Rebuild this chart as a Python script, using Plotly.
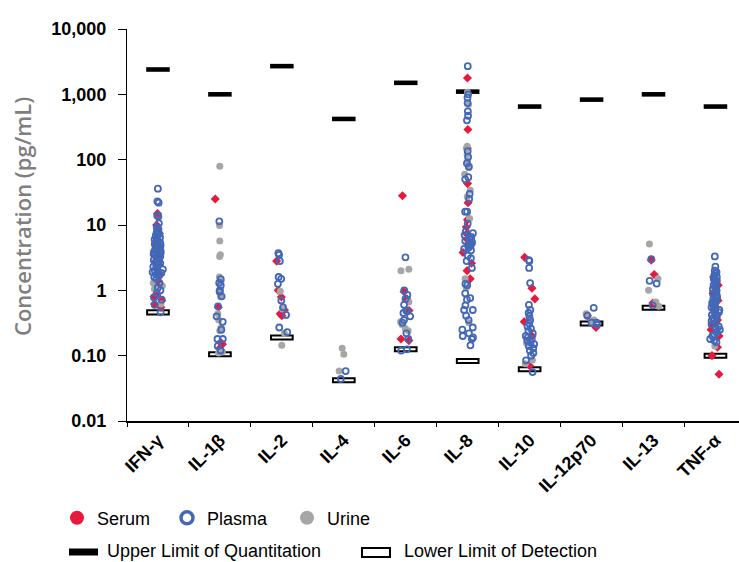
import plotly.graph_objects as go

# ---------------- data ----------------
categories = ["IFN-γ", "IL-1β", "IL-2", "IL-4", "IL-6", "IL-8", "IL-10", "IL-12p70", "IL-13", "TNF-α"]
uloq = [2400, 1000, 2700, 420, 1500, 1100, 650, 830, 1000, 650]
llod = [0.46, 0.105, 0.19, 0.042, 0.125, 0.083, 0.062, 0.31, 0.54, 0.10]

y_tickvals = [0.01, 0.1, 1, 10, 100, 1000, 10000]
y_ticktext = ["0.01", "0.10", "1", "10", "100", "1,000", "10,000"]

# Serum (red)
serum_ifng = [15, 10, 8.0, 7.4, 6.1, 5.0, 4.6, 3.8, 3.3, 2.8, 2.1, 1.8, 1.4, 1.25, 0.85, 0.8, 0.7, 0.62, 0.55]
serum_il1b = [25, 0.55, 0.16, 0.15, 0.13]
serum_il2 = [2.8, 1.0, 0.79, 0.5, 0.44, 0.41]
serum_il4 = []
serum_il6 = [28, 0.95, 0.74, 0.49, 0.18, 0.17]
serum_il8 = [1780, 290, 150, 43, 22, 12, 9.3, 7.2, 6.0, 5.0, 3.8, 2.6, 2.0, 1.5]
serum_il10 = [3.2, 1.08, 0.74, 0.33, 0.2, 0.07]
serum_il12 = [0.41, 0.27]
serum_il13 = [2.9, 1.74, 0.64]
serum_tnfa = [1.6, 1.2, 0.9, 0.7, 0.55, 0.45, 0.35, 0.3, 0.25, 0.2, 0.135, 0.1, 0.052]

# Plasma (blue rings)
plasma_ifng = [36, 23, 22, 14, 13.5, 10.6, 9.2, 8.6, 8.1, 7.8, 7.3, 7.0, 6.8, 6.5, 6.2, 6.0, 5.7, 5.5,
               5.3, 5.1, 4.9, 4.8, 4.6, 4.4, 4.3, 4.1, 4.0, 3.9, 3.7, 3.6, 3.5, 3.4, 3.3, 3.2, 3.0, 2.9,
               2.8, 2.7, 2.6, 2.5, 2.4, 2.3, 2.2, 2.1, 2.0, 1.9, 1.85, 1.75, 1.7, 1.6, 1.5, 1.3, 1.1,
               1.0, 0.9, 0.78, 0.72, 0.6, 0.46]
plasma_il1b = [11.4, 1.48, 1.3, 1.19, 1.0, 0.95, 0.81, 0.57, 0.4, 0.33, 0.25, 0.18, 0.18, 0.14, 0.12]
plasma_il2 = [3.7, 3.5, 2.8, 1.6, 1.5, 1.26, 0.7, 0.55, 0.42, 0.27, 0.23]
plasma_il4 = [0.058, 0.044]
plasma_il6 = [3.2, 1.0, 0.85, 0.74, 0.6, 0.49, 0.49, 0.45, 0.4, 0.35, 0.32, 0.22, 0.18, 0.125, 0.12]
plasma_il8 = [2700, 1000, 890, 735, 550, 470, 400, 135, 110, 88, 78, 54, 50, 30, 25, 16, 16, 10.5, 8.0,
              7.5, 7.0, 6.6, 6.2, 6.0, 5.7, 5.4, 5.2, 5.0, 4.8, 4.5, 4.3, 4.1, 3.4, 3.1, 2.8, 2.2, 1.26,
              1.2, 0.9, 0.76, 0.72, 0.59, 0.5, 0.5, 0.41, 0.35, 0.27, 0.25, 0.22, 0.2, 0.19, 0.18, 0.144]
plasma_il10 = [2.9, 2.8, 2.2, 1.29, 0.6, 0.5, 0.45, 0.4, 0.35, 0.31, 0.28, 0.26, 0.24, 0.22, 0.2, 0.19,
               0.18, 0.17, 0.16, 0.15, 0.14, 0.13, 0.12, 0.11, 0.1, 0.085, 0.056]
plasma_il12 = [0.54, 0.41, 0.32, 0.32, 0.3]
plasma_il13 = [3.0, 1.4, 1.27, 0.59]
plasma_tnfa = [3.3, 2.3, 2.0, 1.9, 1.8, 1.7, 1.6, 1.5, 1.45, 1.4, 1.3, 1.25, 1.2, 1.1, 1.05, 1.0, 0.95,
               0.9, 0.85, 0.8, 0.78, 0.75, 0.7, 0.67, 0.64, 0.6, 0.58, 0.55, 0.52, 0.5, 0.48, 0.46,
               0.44, 0.42, 0.4, 0.38, 0.36, 0.34, 0.32, 0.3, 0.28, 0.26, 0.25, 0.23, 0.21, 0.2, 0.18,
               0.17, 0.16]

# Urine (grey)
urine_ifng = [1.3, 1.18, 1.05, 0.62]
urine_il1b = [79, 9.8, 5.7, 3.5, 3.3, 1.6, 1.35, 1.0, 0.8, 0.44, 0.35, 0.27, 0.24, 0.115, 0.11]
urine_il2 = [0.97, 0.52, 0.22, 0.144]
urine_il4 = [0.13, 0.105, 0.058]
urine_il6 = [2.1, 2.0, 0.66, 0.33, 0.3, 0.26, 0.24]
urine_il8 = [1080, 700, 160, 150, 120, 95, 75, 60, 34, 27, 12.6, 1.5, 1.1, 0.32]
urine_il10 = [0.155, 0.085, 0.075]
urine_il12 = [0.44, 0.35, 0.32]
urine_il13 = [5.1, 1.5, 1.0, 0.66, 0.57]
urine_tnfa = [0.5, 0.22, 0.14]

serum = [serum_ifng, serum_il1b, serum_il2, serum_il4, serum_il6, serum_il8, serum_il10, serum_il12, serum_il13, serum_tnfa]
plasma = [plasma_ifng, plasma_il1b, plasma_il2, plasma_il4, plasma_il6, plasma_il8, plasma_il10, plasma_il12, plasma_il13, plasma_tnfa]
urine = [urine_ifng, urine_il1b, urine_il2, urine_il4, urine_il6, urine_il8, urine_il10, urine_il12, urine_il13, urine_tnfa]

# ---------------- style ----------------
RED = "#E8193C"
BLUE = "#4468B8"
GREY = "#A6A6A6"
FONT = "Liberation Sans, Arial, sans-serif"

W_FIG, H_FIG = 739, 562
ML, MR, MT, MB = 127, 0, 29, 141
PW, PH = W_FIG - ML - MR, H_FIG - MT - MB


def px_x(p):
    return (p - ML) / PW


def px_y(p):
    return (MT + PH - p) / PH


def flat(groups):
    xs, ys = [], []
    for cat, vals in zip(categories, groups):
        xs += [cat] * len(vals)
        ys += list(vals)
    return xs, ys


fig = go.Figure()

# limit bars (thin bars on log axis, centred on the limit values)
u_half = 10 ** 0.035
l_half = 10 ** 0.031
fig.add_trace(go.Bar(
    x=categories, y=[v * u_half - v / u_half for v in uloq], base=[v / u_half for v in uloq],
    width=0.38, marker=dict(color="black", line=dict(width=0)), showlegend=False,
    name="Upper Limit of Quantitation"))
fig.add_trace(go.Bar(
    x=categories, y=[v * l_half - v / l_half for v in llod], base=[v / l_half for v in llod],
    width=0.35, marker=dict(color="white", line=dict(color="black", width=2)), showlegend=False,
    name="Lower Limit of Detection"))


def points(groups, name, marker):
    xs, ys = flat(groups)
    return go.Box(
        x=xs, y=ys, name=name, boxpoints="all", jitter=0.6, pointpos=0, width=0.3,
        fillcolor="rgba(0,0,0,0)", line=dict(width=0, color="rgba(0,0,0,0)"),
        marker=marker, showlegend=False, hoveron="points")


fig.add_trace(points(serum, "Serum", dict(symbol="diamond", size=7, color=RED)))
fig.add_trace(points(urine, "Urine", dict(symbol="circle", size=7, color=GREY)))
fig.add_trace(points(plasma, "Plasma", dict(symbol="circle-open", size=6, color=BLUE,
                                            line=dict(width=1.8, color=BLUE))))

# legend entries
fig.add_trace(go.Scatter(x=[None], y=[None], mode="markers", name="Serum",
                         marker=dict(symbol="circle", size=14, color=RED), legendwidth=65))
fig.add_trace(go.Scatter(x=[None], y=[None], mode="markers", name="Plasma",
                         marker=dict(symbol="circle-open", size=12, color=BLUE, line=dict(width=3.5, color=BLUE)),
                         legendwidth=75))
fig.add_trace(go.Scatter(x=[None], y=[None], mode="markers", name="Urine",
                         marker=dict(symbol="circle", size=14, color=GREY), legendwidth=60))

shapes = [
    dict(type="rect", xref="paper", yref="paper", x0=px_x(69), x1=px_x(98), y0=px_y(555.5), y1=px_y(548.5),
         fillcolor="black", line=dict(width=0)),
    dict(type="rect", xref="paper", yref="paper", x0=px_x(362), x1=px_x(390), y0=px_y(557), y1=px_y(548),
         fillcolor="white", line=dict(color="black", width=2)),
]
annotations = [
    dict(text="Upper Limit of Quantitation", xref="paper", yref="paper", x=px_x(105), y=px_y(551),
         xanchor="left", yanchor="middle", showarrow=False, font=dict(family=FONT, size=18, color="black")),
    dict(text="Lower Limit of Detection", xref="paper", yref="paper", x=px_x(402), y=px_y(551),
         xanchor="left", yanchor="middle", showarrow=False, font=dict(family=FONT, size=18, color="black")),
    dict(text="Concentration (pg/mL)", xref="paper", yref="paper", x=px_x(22), y=px_y(217),
         xanchor="center", yanchor="middle", textangle=-90, showarrow=False,
         font=dict(family="Open Sans, sans-serif", size=22, color="#7F7F7F", weight=600)),
]

fig.update_layout(
    width=W_FIG, height=H_FIG,
    margin=dict(l=ML, r=MR, t=MT, b=MB, autoexpand=False),
    plot_bgcolor="white", paper_bgcolor="white",
    barmode="overlay", boxmode="overlay",
    font=dict(family=FONT, color="black"),
    showlegend=True,
    legend=dict(orientation="h", x=px_x(57), xanchor="left", y=px_y(518), yanchor="middle",
                font=dict(family=FONT, size=18, color="black"), bgcolor="rgba(0,0,0,0)",
                borderwidth=0, itemclick=False),
    shapes=shapes, annotations=annotations,
    xaxis=dict(type="category", categoryorder="array", categoryarray=categories,
               range=[-0.5, 9.38], tickson="boundaries", ticks="outside", ticklen=4,
               tickcolor="black", showline=True, linecolor="black", linewidth=1.5,
               showgrid=False, zeroline=False, tickangle=-45,
               tickfont=dict(family=FONT, size=18, color="black", weight="bold")),
    yaxis=dict(type="log", range=[-2, 4], tickvals=y_tickvals, ticktext=y_ticktext,
               ticks="outside", ticklen=8, tickcolor="black", showline=True, linecolor="black",
               linewidth=1, showgrid=False, zeroline=False, ticklabelstandoff=8,
               tickfont=dict(family=FONT, size=18, color="black", weight="bold")),
)

fig.write_html("out.html", config={"displayModeBar": False},
               post_script="document.body.style.margin='0px';document.body.style.overflow='hidden';")
